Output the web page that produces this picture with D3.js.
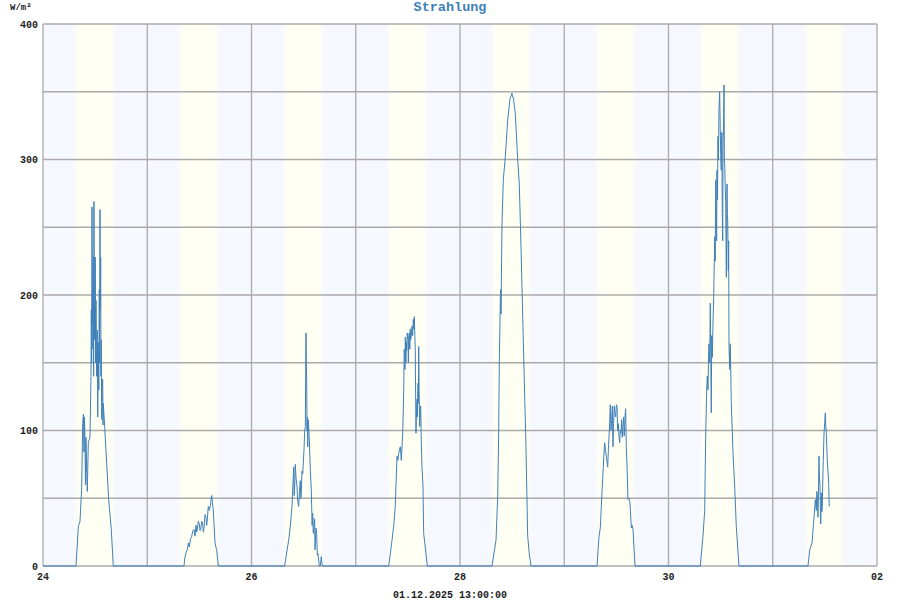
<!DOCTYPE html>
<html>
<head>
<meta charset="utf-8">
<script src="https://cdn.jsdelivr.net/npm/d3@7"></script>
<style>
  body { margin: 0; background: #fff; }
  svg { display: block; }
  text { font-family: "Liberation Mono", "DejaVu Sans Mono", monospace; }
</style>
</head>
<body>
<svg id="chart" width="900" height="600"></svg>
<script>
// x labels: one label every second day
var dayLabels = ["24", "25", "26", "27", "28", "29", "30", "01"];
var tickDays = [0, 2, 4, 6, 8];
var tickLabels = ["24", "26", "28", "30", "02"];
var yTicks = [0, 100, 200, 300, 400];

// daylight (hours) for the shaded bands
var sunrise = [7.5, 7.5, 7.55, 7.55, 7.6, 7.6, 7.6, 7.65];
var sunset = [16.1, 16.1, 16.1, 16.05, 16.05, 16.05, 16.05, 16.05];

// radiation, [hour of day, W/m²]
var day24 = [[7.60,0],[8.13,29],[8.52,33],[8.91,58],[9.14,105],[9.30,112],[9.44,84],[9.55,110],[9.67,91],[9.78,60],[9.88,95],[10.06,69],[10.2,55],[10.43,91],[10.82,95],[11.05,140],[11.12,189],[11.2,150],[11.28,265],[11.36,180],[11.44,204],[11.5,160],[11.58,228],[11.66,140],[11.74,269],[11.82,200],[11.9,167],[12.04,228],[12.12,150],[12.2,196],[12.35,140],[12.5,174],[12.6,110],[12.73,165],[12.85,130],[12.96,204],[13.04,150],[13.12,263],[13.2,190],[13.28,228],[13.35,140],[13.42,167],[13.5,110],[13.58,108],[13.66,138],[13.74,137],[13.82,104],[13.88,120],[14.2,103],[14.66,76],[15.12,49],[15.72,27],[16.18,0]];
var day25 = [[8.46,0],[8.69,7],[8.95,10],[9.22,12],[9.45,17],[9.68,14],[9.95,20],[10.23,22],[10.5,26],[10.76,27],[11.0,22],[11.22,30],[11.38,25],[11.52,27],[11.75,33],[11.98,31],[12.15,26],[12.3,27],[12.55,33],[12.77,31],[12.9,25],[13.06,28],[13.3,38],[13.52,36],[13.68,30],[13.82,34],[14.05,44],[14.28,41],[14.55,45],[14.83,52],[15.0,47],[15.2,41],[15.4,30],[15.6,17],[15.8,14],[15.98,12],[16.36,0]];
var day26 = [[7.64,0],[8.2,12],[8.56,19],[8.93,29],[9.32,44],[9.55,60],[9.71,73],[9.82,52],[9.94,59],[10.08,75],[10.25,65],[10.47,59],[10.65,48],[10.86,44],[11.05,55],[11.23,63],[11.35,50],[11.46,54],[11.62,70],[11.79,68],[12.09,86],[12.25,100],[12.39,103],[12.47,140],[12.55,172],[12.63,150],[12.71,135],[12.78,100],[12.85,110],[12.95,88],[13.05,108],[13.17,103],[13.31,93],[13.55,70],[13.77,56],[13.95,30],[14.09,39],[14.2,25],[14.32,24],[14.45,35],[14.55,34],[14.62,12],[14.69,17],[14.85,28],[15.01,24],[15.15,8],[15.31,9],[15.61,0],[15.85,0],[16.07,7],[16.2,2],[16.39,0]];
var day27 = [[7.59,0],[8.35,19],[8.75,30],[9.1,44],[9.5,81],[9.7,78],[9.89,83],[10.1,86],[10.26,88],[10.49,78],[10.81,98],[11.05,130],[11.15,160],[11.27,157],[11.34,145],[11.41,169],[11.55,150],[11.65,165],[11.73,159],[11.85,172],[12.03,167],[12.12,150],[12.2,170],[12.33,172],[12.45,160],[12.55,175],[12.65,167],[12.8,170],[12.95,177],[13.1,170],[13.25,182],[13.38,175],[13.48,184],[13.6,170],[13.71,159],[13.8,120],[13.87,98],[13.95,110],[14.1,123],[14.2,110],[14.33,135],[14.42,120],[14.49,162],[14.58,130],[14.72,103],[14.85,115],[14.95,118],[15.1,90],[15.25,73],[15.48,59],[15.64,24],[16.01,14],[16.47,0]];
var day28 = [[7.37,0],[8.29,19],[8.68,51],[8.91,100],[9.05,150],[9.21,182],[9.3,198],[9.37,204],[9.44,186],[9.67,253],[9.97,285],[10.43,302],[10.98,329],[11.51,345],[11.75,347],[11.97,349],[12.1,346],[12.27,346],[12.5,340],[12.73,334],[13.28,300],[13.65,282],[14.04,236],[14.43,186],[14.8,137],[15.19,88],[15.58,22],[15.95,9],[16.34,0]];
var day29 = [[7.54,0],[8.0,22],[8.3,28],[8.76,59],[9.1,80],[9.31,91],[9.5,85],[9.68,81],[10.0,73],[10.15,85],[10.3,95],[10.45,105],[10.6,119],[10.75,100],[10.92,108],[11.08,118],[11.22,88],[11.35,105],[11.52,118],[11.68,112],[11.84,110],[12.0,119],[12.14,118],[12.3,100],[12.44,105],[12.6,96],[12.76,91],[12.9,100],[13.06,98],[13.2,108],[13.36,95],[13.52,104],[13.68,110],[13.8,96],[13.91,103],[14.02,112],[14.14,116],[14.28,88],[14.5,70],[14.67,49],[14.85,50],[15.06,49],[15.25,40],[15.44,28],[15.62,30],[15.83,27],[16.29,0]];
var day30 = [[7.32,0],[7.94,22],[8.33,41],[8.56,95],[8.79,130],[8.93,140],[9.09,130],[9.2,150],[9.32,164],[9.48,150],[9.62,194],[9.72,160],[9.85,113],[9.95,170],[10.08,154],[10.25,180],[10.41,199],[10.64,243],[10.75,225],[10.87,285],[11.0,263],[11.08,240],[11.16,292],[11.28,270],[11.39,317],[11.5,300],[11.62,337],[11.78,350],[11.92,322],[12.05,300],[12.15,292],[12.28,320],[12.38,260],[12.48,240],[12.55,309],[12.68,330],[12.78,355],[12.86,300],[12.94,297],[13.05,280],[13.17,268],[13.24,240],[13.31,213],[13.47,282],[13.55,260],[13.63,255],[13.77,218],[13.85,240],[13.93,162],[14.09,145],[14.16,160],[14.23,164],[14.46,120],[14.85,83],[15.24,59],[15.61,29],[16.23,0]];
var day01 = [[8.11,0],[8.51,12],[9.04,17],[9.5,36],[9.8,49],[10.03,41],[10.15,55],[10.26,52],[10.42,36],[10.55,60],[10.65,81],[10.75,65],[10.88,59],[11.04,31],[11.18,54],[11.3,40],[11.41,44],[11.52,65],[11.64,78],[11.8,98],[11.95,105],[12.1,113],[12.2,104],[12.33,98],[12.56,78],[12.88,61],[13.0,44]];

var days = [day24, day25, day26, day27, day28, day29, day30, day01];

var svg = d3.select("#chart");
var width = +svg.attr("width");
var height = +svg.attr("height");
var margin = {top: 24, right: 23, bottom: 34, left: 43};

var xScale = d3.scaleLinear()
    .domain([0, days.length * 24])
    .range([margin.left, width - margin.right]);
var yScale = d3.scaleLinear()
    .domain([0, 400])
    .range([height - margin.bottom, margin.top]);

// build one continuous series, night hours stay on 0
var series = [[0, 0]];
days.forEach(function (pts, i) {
    pts.forEach(function (p) { series.push([i * 24 + p[0], p[1]]); });
});

// day / night shading
var defs = svg.append("defs");
var nightColor = "#f6f8ff", dayColor = "#fffff3";
var bg = svg.append("g");
days.forEach(function (d, i) {
    var grad = defs.append("linearGradient")
        .attr("id", "band" + i)
        .attr("gradientUnits", "userSpaceOnUse")
        .attr("x1", xScale(i * 24)).attr("x2", xScale(i * 24 + 24))
        .attr("y1", 0).attr("y2", 0);
    var stops = [
        [0, nightColor],
        [sunrise[i] - 0.6, nightColor],
        [sunrise[i] + 0.6, dayColor],
        [sunset[i] - 0.6, dayColor],
        [sunset[i] + 0.6, nightColor],
        [24, nightColor]
    ];
    stops.forEach(function (s) {
        grad.append("stop").attr("offset", s[0] / 24).attr("stop-color", s[1]);
    });
    bg.append("rect")
        .attr("x", xScale(i * 24))
        .attr("y", yScale(400))
        .attr("width", xScale(24) - xScale(0))
        .attr("height", yScale(0) - yScale(400))
        .attr("fill", "url(#band" + i + ")");
});

// grid
var grid = svg.append("g").attr("stroke", "#aaaaaa").attr("stroke-width", 1.3);
grid.selectAll(".hgrid")
    .data(d3.range(0, 401, 50))
    .join("line")
    .attr("x1", xScale(0)).attr("x2", xScale(days.length * 24))
    .attr("y1", d => yScale(d)).attr("y2", d => yScale(d));
grid.selectAll(".vgrid")
    .data(d3.range(0, days.length + 1))
    .join("line")
    .attr("x1", d => xScale(d * 24)).attr("x2", d => xScale(d * 24))
    .attr("y1", yScale(0)).attr("y2", yScale(400));

// line
var line = d3.line()
    .x(d => xScale(d[0]))
    .y(d => yScale(d[1]));

svg.append("path")
    .datum(series)
    .attr("fill", "none")
    .attr("stroke", "#3f80ba")
    .attr("stroke-width", 1)
    .attr("stroke-linejoin", "round")
    .attr("d", line);

// y labels
svg.append("g").selectAll("text")
    .data(yTicks)
    .join("text")
    .attr("x", margin.left - 5)
    .attr("y", d => yScale(d) + 3.5)
    .attr("text-anchor", "end")
    .attr("font-size", 10)
    .attr("font-weight", "bold")
    .attr("fill", "#222")
    .text(d => d);

// x labels
svg.append("g").selectAll("text")
    .data(tickDays)
    .join("text")
    .attr("x", d => xScale(d * 24))
    .attr("y", yScale(0) + 14)
    .attr("text-anchor", "middle")
    .attr("font-size", 10)
    .attr("font-weight", "bold")
    .attr("fill", "#222")
    .text((d, i) => tickLabels[i]);

// unit
svg.append("text")
    .attr("x", 10)
    .attr("y", 10)
    .attr("font-size", 9)
    .attr("font-weight", "bold")
    .attr("fill", "#222")
    .text("W/m²");

// title
svg.append("text")
    .attr("x", width / 2)
    .attr("y", 11)
    .attr("text-anchor", "middle")
    .attr("font-size", 13.5)
    .attr("font-weight", "bold")
    .attr("fill", "#3d7fb8")
    .text("Strahlung");

// timestamp
svg.append("text")
    .attr("x", width / 2)
    .attr("y", 598)
    .attr("text-anchor", "middle")
    .attr("font-size", 10)
    .attr("font-weight", "bold")
    .attr("fill", "#222")
    .text("01.12.2025 13:00:00");
</script>
</body>
</html>
